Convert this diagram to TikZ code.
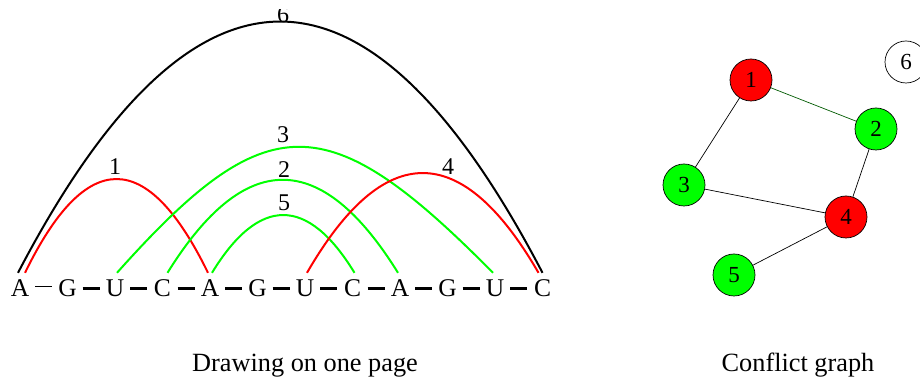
\documentclass[tikz,border=0pt]{standalone}
\usepackage{fontspec}
\setmainfont{Liberation Serif}
\usetikzlibrary{calc}
\definecolor{edgegreen}{RGB}{0,90,0}

\begin{document}
\begin{tikzpicture}[x=1pt, y=1pt,
  base/.style={inner sep=0pt, minimum width=30pt, text height=17pt, text depth=0pt,
    font=\fontsize{25.5}{25.5}\selectfont},
  lbl/.style={inner sep=0pt, font=\fontsize{24}{24}\selectfont},
  pair/.style={line width=2pt},
  vtx/.style={circle, draw, line width=0.7pt, minimum size=42pt, inner sep=0pt,
    font=\fontsize{23}{23}\selectfont},
  edge/.style={line width=0.7pt},
  caption/.style={inner sep=0pt, anchor=base, font=\fontsize{26.3}{26.3}\selectfont}]
  \def\dx{47.5}  % letter spacing
  \def\up{7pt}   % arc ends above letters

  \useasboundingbox (0,0) rectangle (920,379);
  \clip (0,0) rectangle (920,369);

  % Sequence
  \foreach \c [count=\i] in {A,G,U,C,A,G,U,C,A,G,U,C}
    \node[base, anchor=base] (b\i) at ({20+\dx*(\i-1)}, 82) {\c};

  % Backbone
  \draw[line width=0.6pt, transform canvas={yshift=2pt}] (b1) -- (b2);
  \foreach \i [evaluate=\i as \j using int(\i-1)] in {3,...,12}
    \draw[line width=2.2pt] (b\j) -- (b\i);

  % 6: outer pair
  \draw[pair, black] ([xshift=-2pt, yshift=\up]b1.north)
    .. controls +(175,335) and +(-175,335) .. ([xshift=0pt, yshift=\up]b12.north);
  \node[lbl] (l6) at (283,364) {6};

  % 1
  \draw[pair, red] ([xshift=5pt, yshift=\up]b1.north)
    .. controls +(61,125) and +(-61,125) .. ([xshift=-2pt, yshift=\up]b5.north);
  \node[lbl] (l1) at (115,212) {1};

  % 3
  \draw[pair, green] ([xshift=2pt, yshift=\up]b3.north)
    .. controls +(150,168) and +(-166,168) .. ([xshift=-2pt, yshift=\up]b11.north);
  \node[lbl] (l3) at (283,244) {3};

  % 2
  \draw[pair, green] ([xshift=5pt, yshift=\up]b4.north)
    .. controls +(77,124) and +(-77,124) .. ([xshift=-2pt, yshift=\up]b9.north);
  \node[lbl] (l2) at (284,209) {2};

  % 5
  \draw[pair, green] ([xshift=2pt, yshift=\up]b5.north)
    .. controls +(47,77) and +(-47,77) .. ([xshift=2pt, yshift=\up]b8.north);
  \node[lbl] (l5) at (284,176) {5};

  % 4
  \draw[pair, red] ([xshift=2pt, yshift=\up]b7.north)
    .. controls +(77,133) and +(-77,133) .. ([xshift=-4pt, yshift=\up]b12.north);
  \node[lbl] (l4) at (448,212) {4};

  % Conflict graph
  \node[vtx, fill=red]   (v1) at (751,299) {1};
  \node[vtx, fill=green] (v2) at (876,250) {2};
  \node[vtx, fill=green] (v3) at (684,194) {3};
  \node[vtx, fill=red]   (v4) at (846,162) {4};
  \node[vtx, fill=green] (v5) at (734,104) {5};
  \node[vtx]             (v6) at (906,317) {6};
  \draw[edge, edgegreen] (v1) -- (v2);
  \draw[edge] (v1) -- (v3);
  \draw[edge] (v2) -- (v4);
  \draw[edge] (v3) -- (v4);
  \draw[edge] (v4) -- (v5);

  % Captions
  \node[caption] (c1) at (305,7) {Drawing on one page};
  \node[caption] (c2) at (798,7) {Conflict graph};

\end{tikzpicture}
\end{document}
